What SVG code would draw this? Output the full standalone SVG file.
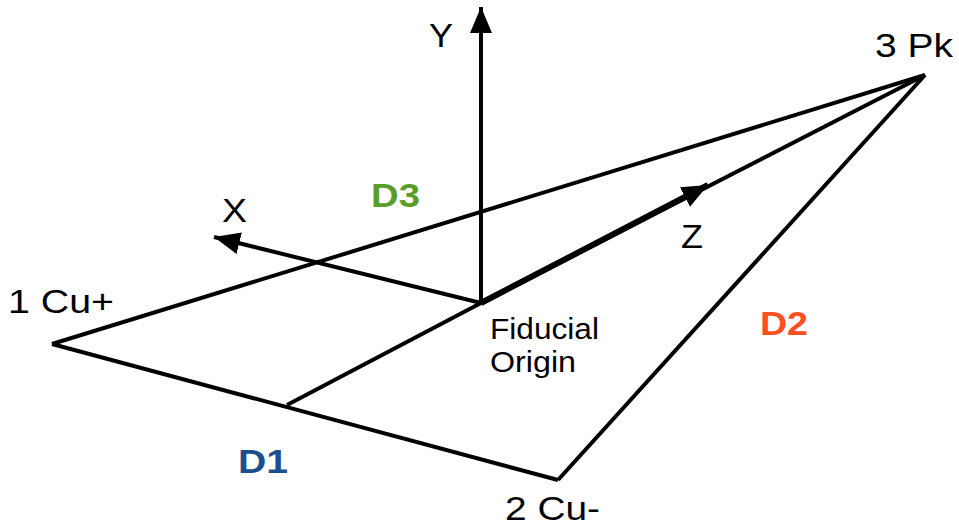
<svg xmlns="http://www.w3.org/2000/svg" width="959" height="529" viewBox="0 0 959 529">
<style>
.ln{stroke:#000;stroke-width:4;fill:none;stroke-linejoin:miter}
.lbl{font-family:"Liberation Sans",Arial,sans-serif;font-size:34px;fill:#000}
.fo{font-family:"Liberation Sans",Arial,sans-serif;font-size:29px;fill:#000}
.dl{font-family:"Liberation Sans",Arial,sans-serif;font-size:34px;font-weight:bold}
</style>
<defs>
<marker id="ah" markerUnits="userSpaceOnUse" markerWidth="28" markerHeight="24" refX="26" refY="11" orient="auto">
<path d="M0,0 L26,11 L0,22 z" fill="#000"/>
</marker>
</defs>
<rect width="959" height="529" fill="#fff"/>
<g id="connectors">
<path id="e-cu1-pk" class="ln" d="M52,344 L925,75"/>
<path id="e-cu1-cu2" class="ln" d="M52,344 L558,480"/>
<path id="e-cu2-pk" class="ln" d="M558,480 L925,75"/>
<path id="e-origin-pk" class="ln" d="M481,303 L925,75"/>
<path id="e-origin-d1" class="ln" d="M481,303 L287,405"/>
<path id="axis-y" class="ln" d="M481,303 L481,7" marker-end="url(#ah)"/>
<path id="axis-x" class="ln" d="M481,303 L214,237" marker-end="url(#ah)"/>
<path id="axis-z" class="ln" style="stroke-width:6" d="M481,303 L708,185" marker-end="url(#ah)"/>
</g>
<g id="node-cu1"><text class="lbl" x="8" y="313" textLength="106" lengthAdjust="spacingAndGlyphs">1 Cu+</text></g>
<g id="node-cu2"><text class="lbl" x="505" y="520" textLength="95" lengthAdjust="spacingAndGlyphs">2 Cu-</text></g>
<g id="node-pk"><text class="lbl" x="875" y="57" textLength="78" lengthAdjust="spacingAndGlyphs">3 Pk</text></g>
<g id="node-origin"><text class="fo" x="490" y="339" textLength="109" lengthAdjust="spacingAndGlyphs">Fiducial</text><text class="fo" x="490" y="372" textLength="86" lengthAdjust="spacingAndGlyphs">Origin</text></g>
<g id="labels">
<text class="lbl" x="429" y="47" textLength="24" lengthAdjust="spacingAndGlyphs">Y</text>
<text class="lbl" x="222" y="222" textLength="25" lengthAdjust="spacingAndGlyphs">X</text>
<text class="lbl" x="681" y="248" textLength="22" lengthAdjust="spacingAndGlyphs">Z</text>
<text class="dl" x="371" y="207" fill="#5a9e2a" textLength="49" lengthAdjust="spacingAndGlyphs">D3</text>
<text class="dl" x="238" y="473" fill="#1c4f8d" textLength="50" lengthAdjust="spacingAndGlyphs">D1</text>
<text class="dl" x="760" y="335" fill="#ff4e1f" textLength="48" lengthAdjust="spacingAndGlyphs">D2</text>
</g>
</svg>
